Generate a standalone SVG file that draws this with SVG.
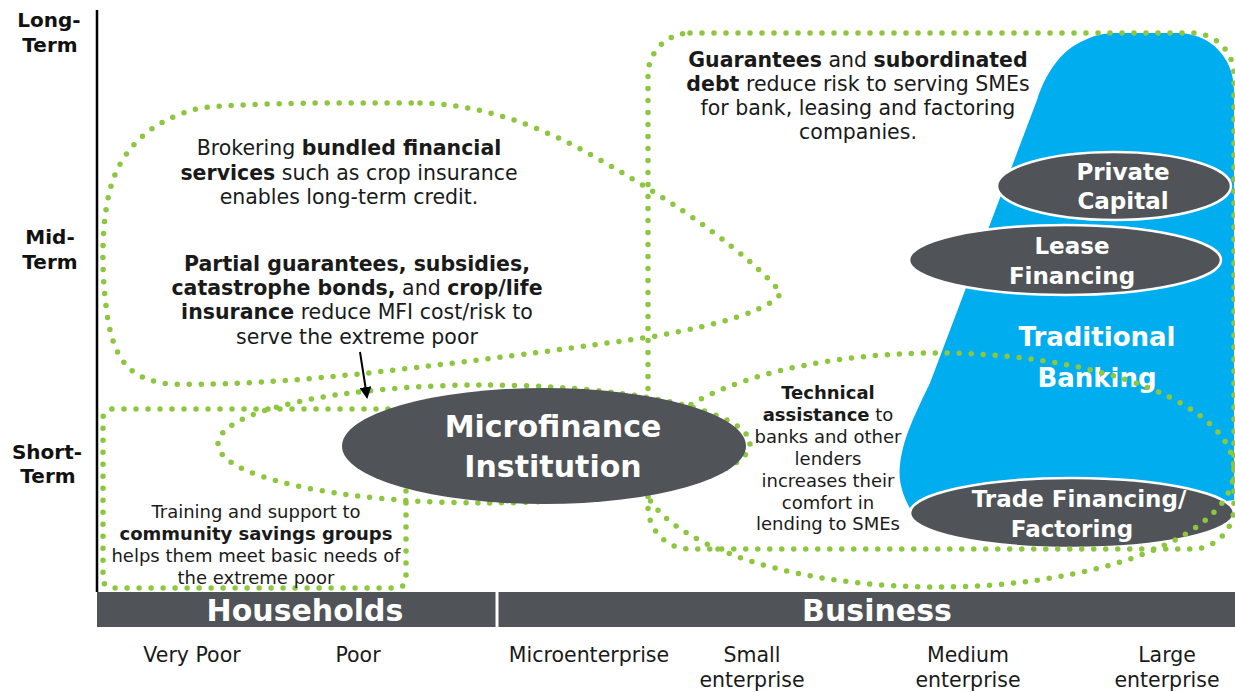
<svg xmlns="http://www.w3.org/2000/svg" width="1235" height="692" viewBox="0 0 1235 692">
<style>
.t{font-family:"DejaVu Sans",Verdana,sans-serif;font-size:20.5px;fill:#1a1a1a;text-anchor:middle}
.s{font-size:18px}
.b{font-weight:bold}
.ax{font-family:"DejaVu Sans",Verdana,sans-serif;font-size:20px;font-weight:bold;fill:#111;text-anchor:middle}
.w{font-family:"DejaVu Sans",Verdana,sans-serif;font-weight:bold;fill:#fff;text-anchor:middle}
.dot{fill:none;stroke:#8DC63F;stroke-width:5.5;stroke-dasharray:0 12;stroke-linecap:round}
.ell{fill:#505358;stroke:#fff;stroke-width:2.5}
</style>
<defs>
<marker id="ah" markerWidth="12" markerHeight="12" refX="10" refY="6" orient="auto" markerUnits="userSpaceOnUse"><path d="M0,0 L12,6 L0,12 z" fill="#000"/></marker>
</defs>
<rect width="1235" height="692" fill="#fff"/>
<g id="axis">
<line x1="97" y1="10" x2="97" y2="592" stroke="#000" stroke-width="2.5"/>
<text class="ax" x="49" y="27">Long-</text><text class="ax" x="50" y="52">Term</text>
<text class="ax" x="50" y="244">Mid-</text><text class="ax" x="50" y="269">Term</text>
<text class="ax" x="47" y="459">Short-</text><text class="ax" x="48" y="483">Term</text>
</g>
<g id="traditional-banking">
<path d="M912,512 C902,495 898,480 900,465 C903,440 912,420 930,383 L1037,100 C1045,75 1060,50 1085,40 C1095,35 1105,33 1115,33 L1178,33 C1210,33 1234,58 1234,90 L1234,500 L1100,520 Z" fill="#00AEEF"/>
<text class="w" x="1097" y="346" font-size="26">Traditional</text>
<text class="w" x="1097" y="387" font-size="26">Banking</text>
</g>
<g id="private-capital">
<ellipse class="ell" cx="1114" cy="186" rx="117" ry="34"/>
<text class="w" x="1123" y="180" font-size="23">Private</text>
<text class="w" x="1123" y="209" font-size="23">Capital</text>
</g>
<g id="lease-financing">
<ellipse class="ell" cx="1065" cy="260" rx="156" ry="35"/>
<text class="w" x="1072" y="254" font-size="23">Lease</text>
<text class="w" x="1072" y="284" font-size="23">Financing</text>
</g>
<g id="trade-financing">
<ellipse class="ell" cx="1072" cy="513" rx="162" ry="35"/>
<text class="w" x="1079" y="507" font-size="23">Trade Financing/</text>
<text class="w" x="1072" y="537" font-size="23">Factoring</text>
</g>
<g id="connectors">
<path class="dot" d="M420,103 C480,104 540,125 600,160 C680,205 750,255 781,293 C770,310 720,325 650,337 C560,350 480,360 420,367 C330,378 240,386 170,384 C130,380 115,360 108,320 C100,270 102,220 110,190 C120,150 150,120 200,108 C260,102 340,103 420,103 Z"/>
<ellipse class="dot" cx="484" cy="444" rx="266" ry="59"/>
<rect class="dot" x="648" y="33" width="586" height="516" rx="42"/>
<ellipse class="dot" cx="937" cy="470" rx="297" ry="117"/>
<rect class="dot" x="103" y="409" width="303" height="179" rx="9"/>
<line x1="360" y1="352" x2="367" y2="397" stroke="#000" stroke-width="2" marker-end="url(#ah)"/>
</g>
<g id="microfinance-institution">
<ellipse cx="544" cy="446" rx="202" ry="58" fill="#505358"/>
<text class="w" x="553" y="437" font-size="30">Microfinance</text>
<text class="w" x="553" y="477" font-size="30">Institution</text>
</g>
<g id="text-bundled">
<text class="t" x="349" y="155">Brokering <tspan class="b">bundled financial</tspan></text>
<text class="t" x="349" y="180"><tspan class="b">services</tspan> such as crop insurance</text>
<text class="t" x="349" y="204">enables long-term credit.</text>
</g>
<g id="text-partial">
<text class="t b" x="357" y="271">Partial guarantees, subsidies,</text>
<text class="t" x="357" y="295"><tspan class="b">catastrophe bonds,</tspan> and <tspan class="b">crop/life</tspan></text>
<text class="t" x="357" y="319"><tspan class="b">insurance</tspan> reduce MFI cost/risk to</text>
<text class="t" x="357" y="344">serve the extreme poor</text>
</g>
<g id="text-guarantees">
<text class="t" x="858" y="67"><tspan class="b">Guarantees</tspan> and <tspan class="b">subordinated</tspan></text>
<text class="t" x="858" y="91"><tspan class="b">debt</tspan> reduce risk to serving SMEs</text>
<text class="t" x="858" y="115">for bank, leasing and factoring</text>
<text class="t" x="858" y="139">companies.</text>
</g>
<g id="text-technical">
<text class="t s b" x="828" y="399">Technical</text>
<text class="t s" x="828" y="421"><tspan class="b">assistance</tspan> to</text>
<text class="t s" x="828" y="443">banks and other</text>
<text class="t s" x="828" y="465">lenders</text>
<text class="t s" x="828" y="487">increases their</text>
<text class="t s" x="828" y="509">comfort in</text>
<text class="t s" x="828" y="530">lending to SMEs</text>
</g>
<g id="text-training">
<text class="t s" x="256" y="518">Training and support to</text>
<text class="t s b" x="256" y="540">community savings groups</text>
<text class="t s" x="256" y="562">helps them meet basic needs of</text>
<text class="t s" x="256" y="584">the extreme poor</text>
</g>
<g id="bar">
<rect x="97" y="592" width="1138" height="35" fill="#505358"/>
<line x1="497" y1="592" x2="497" y2="627" stroke="#fff" stroke-width="3"/>
<text class="w" x="305" y="621" font-size="30">Households</text>
<text class="w" x="877" y="621" font-size="30">Business</text>
</g>
<g id="x-labels">
<text class="t" x="192" y="662">Very Poor</text>
<text class="t" x="358" y="662">Poor</text>
<text class="t" x="589" y="662">Microenterprise</text>
<text class="t" x="752" y="662">Small</text><text class="t" x="752" y="687">enterprise</text>
<text class="t" x="968" y="662">Medium</text><text class="t" x="968" y="687">enterprise</text>
<text class="t" x="1167" y="662">Large</text><text class="t" x="1167" y="687">enterprise</text>
</g>
</svg>
